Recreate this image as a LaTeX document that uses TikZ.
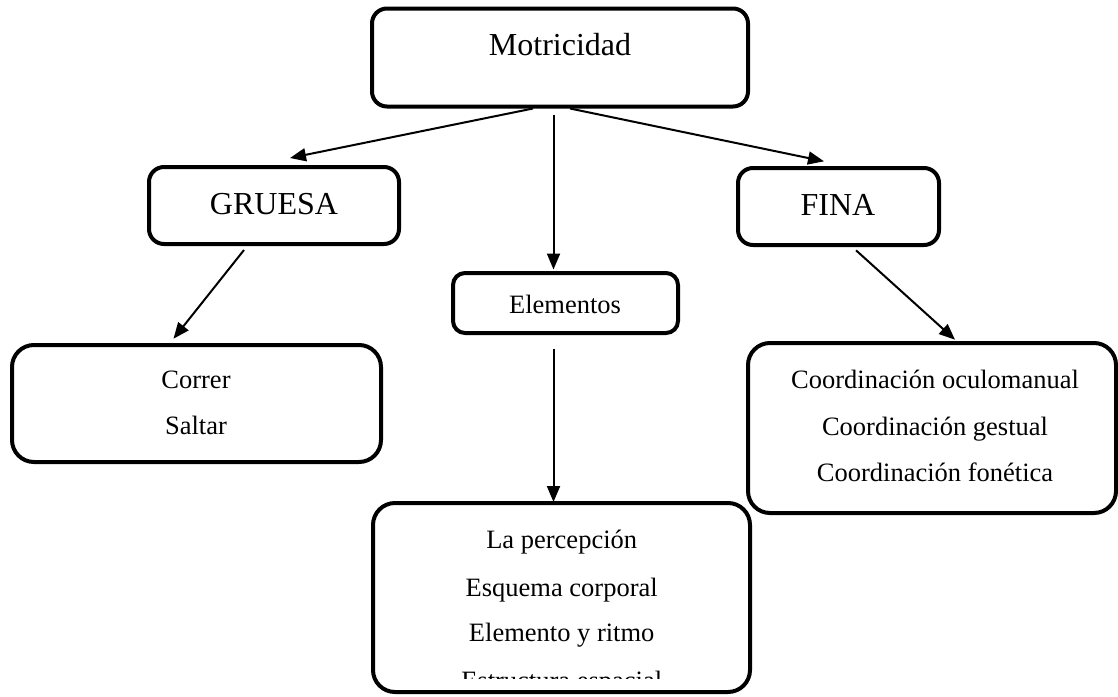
\documentclass[tikz,border=0pt]{standalone}
\usepackage{fontspec}
\setmainfont{Liberation Serif}
\usetikzlibrary{arrows.meta}
\tikzset{
  box/.style={draw=black, line width=4pt, rounded corners=15pt, inner sep=0pt, fill=none},
  bigbox/.style={box, rounded corners=22pt},
  head/.style={inner sep=0pt, anchor=base, font=\fontsize{32}{38}\selectfont},
  body/.style={inner sep=0pt, anchor=base, font=\fontsize{26.5}{32}\selectfont},
  arr/.style={line width=2pt, -{Triangle[length=16pt,width=13pt]}},
}
\begin{document}
\begin{tikzpicture}[x=1pt,y=-1pt]
\useasboundingbox (0,0) rectangle (1118,696);
\fill[white] (0,0) rectangle (1118,696);

% boxes
\node[box, minimum width=376pt, minimum height=98pt] (mot) at (560,57.5) {};
\node[box, minimum width=250pt, minimum height=77pt] (gru) at (274,205.5) {};
\node[box, minimum width=201pt, minimum height=77pt] (fina) at (838.5,206.5) {};
\node[box, rounded corners=12pt, minimum width=225pt, minimum height=60pt] (ele) at (565.5,303) {};
\node[bigbox, minimum width=369pt, minimum height=117pt] (cor) at (196.5,403.5) {};
\node[bigbox, minimum width=368pt, minimum height=170pt] (coo) at (932,428) {};
\node[bigbox, minimum width=377pt, minimum height=189pt] (bot) at (561.5,597.5) {};

% texts
\node[head] (tmot) at (560,55.7) {Motricidad};
\node[head] (tgru) at (274,214) {GRUESA};
\node[head] (tfina) at (838,215) {FINA};
\node[body] (tele) at (565,313) {Elementos};
\node[body] (tc1) at (196,388) {Correr};
\node[body] (tc2) at (196,434) {Saltar};
\node[body] (tf1) at (935,388.3) {Coordinación oculomanual};
\node[body] (tf2) at (935,435) {Coordinación gestual};
\node[body] (tf3) at (935,481.7) {Coordinación fonética};
\node[body] (tb1) at (561.7,548.3) {La percepción};
\node[body] (tb2) at (561.7,596) {Esquema corporal};
\node[body] (tb3) at (561.7,641.7) {Elemento y ritmo};
\begin{scope}
\clip (380,660) rectangle (745,678);
\node[body] (tb4) at (561.7,689.5) {Estructura espacial};
\end{scope}

% connectors
\draw[arr] ([xshift=-27pt]mot.south) -- ([xshift=16pt,yshift=7pt]gru.north);
\draw[arr] ([xshift=10pt]mot.south) -- ([xshift=-14.5pt,yshift=4.7pt]fina.north);
\draw[arr] ([xshift=-6.5pt,yshift=-6pt]mot.south) -- ([xshift=-12pt,yshift=1.5pt]ele.north);
\draw[arr] ([xshift=-30pt,yshift=-4pt]gru.south) -- ([xshift=-23pt,yshift=4.3pt]cor.north);
\draw[arr] ([xshift=17.5pt,yshift=-3.3pt]fina.south) -- ([xshift=23pt,yshift=1.3pt]coo.north);
\draw[arr] ([xshift=-12pt,yshift=-13.7pt]ele.south) -- ([xshift=-8pt,yshift=-1pt]bot.north);
\end{tikzpicture}
\end{document}
